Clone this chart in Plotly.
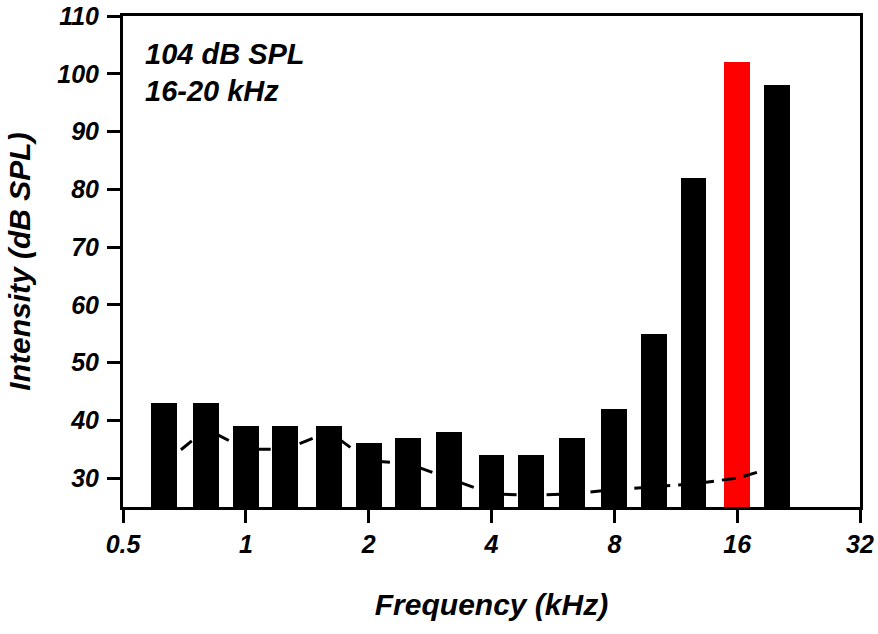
import numpy as np
import plotly.graph_objects as go

freqs_khz = [0.63, 0.8, 1, 1.25, 1.6, 2, 2.5, 3.15, 4, 5, 6.3, 8, 10, 12.5, 16, 20]
intensity_db = [43, 43, 39, 39, 39, 36, 37, 38, 34, 34, 37, 42, 55, 82, 102, 98]
noise_db = [32.5, 38.5, 35, 35, 38, 33, 32.5, 30, 27.3, 27, 27.3, 28, 28.5, 29, 30, 32]
bar_colors = ["black"] * 14 + ["red", "black"]
xtick_labels = ["0.5", "1", "2", "4", "8", "16", "32"]
ytick_vals = [30, 40, 50, 60, 70, 80, 90, 100, 110]

x = np.log2(freqs_khz)
xtick_vals = np.log2([float(t) for t in xtick_labels])

FONT = "Liberation Sans, Arial, sans-serif"

fig = go.Figure()
fig.add_trace(go.Scatter(
    x=x, y=noise_db, mode="lines",
    line=dict(color="black", width=3, dash="14px,8px"),
    hoverinfo="skip", showlegend=False,
))
fig.add_trace(go.Bar(
    x=x, y=intensity_db, width=0.21,
    marker=dict(color=bar_colors, line=dict(width=0)),
    showlegend=False,
))

fig.add_annotation(x=0.027, y=0.922, xref="paper", yref="paper", xanchor="left", yanchor="middle",
                   text="<b><i>104 dB SPL</i></b>", showarrow=False,
                   font=dict(family=FONT, size=29, color="black"))
fig.add_annotation(x=0.027, y=0.848, xref="paper", yref="paper", xanchor="left", yanchor="middle",
                   text="<b><i>16-20 kHz</i></b>", showarrow=False,
                   font=dict(family=FONT, size=29, color="black"))

fig.update_layout(
    width=878, height=634,
    margin=dict(l=123, r=18, t=16, b=127),
    plot_bgcolor="white", paper_bgcolor="white",
    bargap=0,
    font=dict(family=FONT, color="black"),
)
fig.update_xaxes(
    range=[-1, 5], tickmode="array", tickvals=xtick_vals, ticktext=[f"<b><i>{t}</i></b>" for t in xtick_labels],
    showline=True, linecolor="black", linewidth=3, mirror=True,
    ticks="outside", ticklen=13, tickwidth=3, tickcolor="black",
    showgrid=False, zeroline=False, automargin=False, ticklabeloverflow="allow",
    tickfont=dict(family=FONT, size=25, color="black"),
    title=dict(text="<b><i>Frequency (kHz)</i></b>", font=dict(family=FONT, size=30, color="black"), standoff=37),
)
fig.update_yaxes(
    range=[25, 110], tickmode="array", tickvals=ytick_vals, ticktext=[f"<b><i>{v}</i></b>" for v in ytick_vals],
    showline=True, linecolor="black", linewidth=3, mirror=True,
    ticks="outside", ticklen=13, tickwidth=3, tickcolor="black",
    showgrid=False, zeroline=False, automargin=False, ticklabeloverflow="allow",
    ticklabelstandoff=3,
    tickfont=dict(family=FONT, size=25, color="black"),
    title=dict(text="<b><i>Intensity (dB SPL)</i></b>", font=dict(family=FONT, size=30, color="black"), standoff=18),
)

fig.write_html("out.html", config={"displayModeBar": False},
               post_script="document.body.style.margin='0';")
